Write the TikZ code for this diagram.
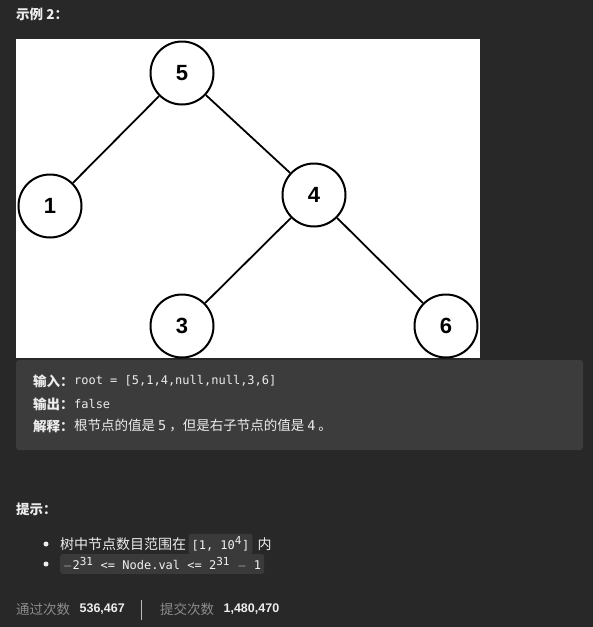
\documentclass[tikz,border=0pt]{standalone}
\usepackage{fontspec}
\setmainfont{Liberation Sans}
\setmonofont{DejaVu Sans Mono}
\newfontfamily\cjk{Noto Sans CJK SC}
\usetikzlibrary{positioning}

\definecolor{pagebg}{HTML}{282828}
\definecolor{panelbg}{HTML}{3C3C3C}
\definecolor{codebg}{HTML}{3A3A3A}
\definecolor{txt}{HTML}{EDEDED}
\definecolor{dimtxt}{HTML}{8C8C8C}

\tikzset{
  treenode/.style={circle, draw=black, line width=2pt, fill=white, minimum size=63pt, inner sep=0pt, font=\fontsize{22}{22}\selectfont\bfseries},
  treeedge/.style={draw=black, line width=1.8pt},
  line/.style={anchor=west, inner sep=0pt, text=txt, font=\cjk\fontsize{13.5}{14}\selectfont},
  code/.style={anchor=west, inner sep=0pt, text=txt, font=\ttfamily\fontsize{12}{14}\selectfont},
}

\begin{document}
\begin{tikzpicture}[x=1pt,y=-1pt]
\useasboundingbox [fill=pagebg] (0,0) rectangle (593,627);

% heading
\node (head) at (16,14) [line, font=\cjk\bfseries\fontsize{13.5}{14}\selectfont] {示例 2：};

% tree picture
\fill [white] (16,39) rectangle (480,358);
\begin{scope}
\clip (16,39) rectangle (480,358);
\node (n5) at (182,73) [treenode] {5};
\node (n1) at (50,206) [treenode] {1};
\node (n4) at (314,195) [treenode] {4};
\node (n3) at (182,326) [treenode] {3};
\node (n6) at (446,326) [treenode] {6};
\draw [treeedge] (n5) -- (n1);
\draw [treeedge] (n5) -- (n4);
\draw [treeedge] (n4) -- (n3);
\draw [treeedge] (n4) -- (n6);
\end{scope}

% example panel
\fill [panelbg, rounded corners=3pt] (16,360) rectangle (583,450);
\node (inlbl) at (33,381) [line, font=\cjk\bfseries\fontsize{13.5}{14}\selectfont] {输入：};
\node (inval) [code, right=0pt of inlbl] {root = [5,1,4,null,null,3,6]};
\node (outlbl) at (33,404) [line, font=\cjk\bfseries\fontsize{13.5}{14}\selectfont] {输出：};
\node (outval) [code, right=0pt of outlbl] {false};
\node (exlbl) at (33,426) [line, font=\cjk\bfseries\fontsize{13.5}{14}\selectfont] {解释：};
\node (exval) [line, right=0pt of exlbl] {根节点的值是 {\ttfamily 5} ，但是右子节点的值是 {\ttfamily 4} 。};

% hints
\node (hint) at (16,509) [line, font=\cjk\bfseries\fontsize{13.5}{14}\selectfont] {提示：};
\fill [txt] (46,544) circle (2.5pt);
\fill [txt] (46,564) circle (2.5pt);
\node (tip1) at (60,544) [line, font=\cjk\fontsize{14}{14}\selectfont] {树中节点数目范围在};
\node (tip1code) [code, right=2pt of tip1, fill=codebg, text=txt!75, inner sep=3pt, rounded corners=2pt] {[1, 10\textsuperscript{\fontsize{11}{11}\selectfont 4}]};
\node (tip1end) [line, right=5pt of tip1code, font=\cjk\fontsize{14}{14}\selectfont] {内};
\node (tip2) at (60,564) [code, fill=codebg, text=txt!75, inner sep=3pt, rounded corners=2pt] {$-$2\textsuperscript{\fontsize{11}{11}\selectfont 31} <= Node.val <= 2\textsuperscript{\fontsize{11}{11}\selectfont 31} $-$ 1};

% stats
\node (acc) at (16,609) [line, text=dimtxt] {通过次数};
\node (accnum) [line, right=9pt of acc, font=\bfseries\fontsize{12.5}{14}\selectfont] {536,467};
\node (sub) at (160,609) [line, text=dimtxt] {提交次数};
\node (subnum) [line, right=9pt of sub, font=\bfseries\fontsize{12.5}{14}\selectfont] {1,480,470};
\draw [dimtxt!60] (141,600) -- (141,620);
\end{tikzpicture}
\end{document}
